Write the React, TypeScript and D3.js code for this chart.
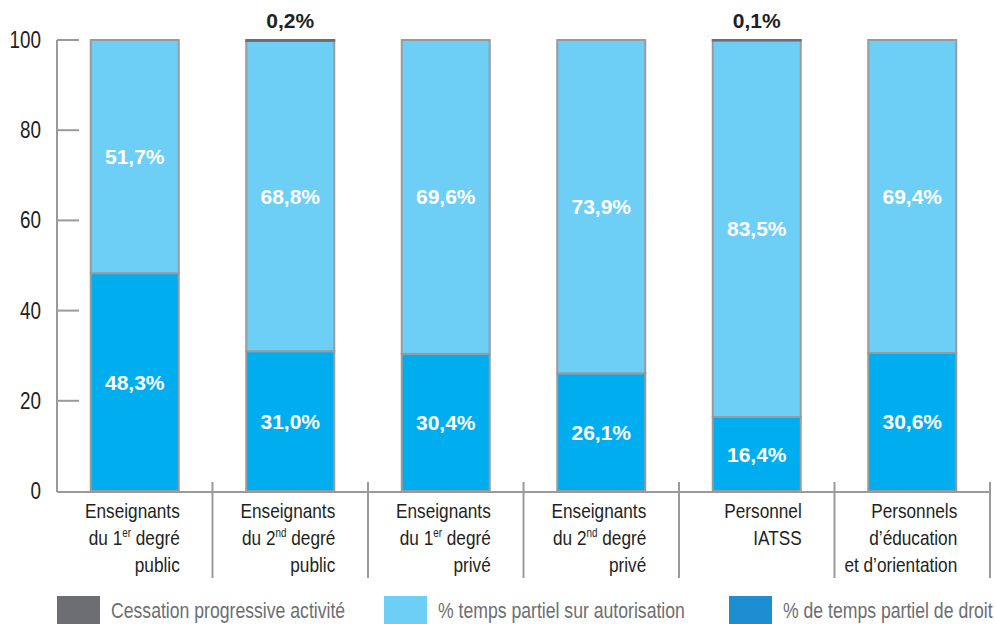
import React from "react";
import * as d3 from "d3";

const categories: string[][] = [
  ["Enseignants", "du 1|er| degré", "public"],
  ["Enseignants", "du 2|nd| degré", "public"],
  ["Enseignants", "du 1|er| degré", "privé"],
  ["Enseignants", "du 2|nd| degré", "privé"],
  ["Personnel", "IATSS"],
  ["Personnels", "d’éducation", "et d’orientation"],
];
const droit = [48.3, 31.0, 30.4, 26.1, 16.4, 30.6];
const autorisation = [51.7, 68.8, 69.6, 73.9, 83.5, 69.4];
const cessation = [0, 0.2, 0, 0, 0.1, 0];
const yTicks = [0, 20, 40, 60, 80, 100];
const legendLabels = [
  "Cessation progressive activité",
  "% temps partiel sur autorisation",
  "% de temps partiel de droit",
];

const W = 996;
const H = 624;
const SANS = "'Liberation Sans', Arial, sans-serif";
const NARROW_SCALE = 0.82;
const C_GREY = "#6D6E71";
const C_LIGHT = "#6DCFF6";
const C_DARK = "#00AEEF";
const C_LEG_DARK = "#1B8FD0";
const C_STROKE = "#999A9C";
const C_TEXT = "#231F20";

const fmt = (v: number) => v.toFixed(1).replace(".", ",") + "%";

function NarrowText({
  x,
  y,
  anchor,
  size,
  fill,
  children,
}: {
  x: number;
  y: number;
  anchor: "start" | "end" | "middle";
  size: number;
  fill: string;
  children: React.ReactNode;
}) {
  return (
    <g transform={`translate(${x},${y}) scale(${NARROW_SCALE},1)`}>
      <text x={0} y={0} textAnchor={anchor} fontFamily={SANS} fontSize={size} fill={fill}>
        {children}
      </text>
    </g>
  );
}

function Label({ line, x, y }: { line: string; x: number; y: number }) {
  const parts = line.split("|");
  return (
    <NarrowText x={x} y={y} anchor="end" size={21} fill={C_TEXT}>
      {parts.map((p, i) =>
        i % 2 === 1 ? (
          <tspan key={i} fontSize={12} dy={-8}>
            {p}
          </tspan>
        ) : (
          <tspan key={i} dy={i > 0 ? 8 : 0}>
            {p}
          </tspan>
        )
      )}
    </NarrowText>
  );
}

export default function App() {
  const left = 57;
  const right = 990;
  const y = d3.scaleLinear().domain([0, 100]).range([491, 40]);
  const x = d3
    .scaleBand<number>()
    .domain(categories.map((_, i) => i))
    .range([left, right])
    .padding(0);
  const bw = x.bandwidth() * 0.566;

  const series = [
    { key: "droit", values: droit, color: C_DARK },
    { key: "autorisation", values: autorisation, color: C_LIGHT },
    { key: "cessation", values: cessation, color: C_GREY },
  ];

  const stacked = categories.map((_, i) => {
    let acc = 0;
    return series.map((s) => {
      const y0 = acc;
      acc += s.values[i];
      return { y0, y1: acc, color: s.color, key: s.key, v: s.values[i] };
    });
  });

  const legendItems = [
    { label: legendLabels[0], color: C_GREY, x: 57 },
    { label: legendLabels[1], color: C_LIGHT, x: 384 },
    { label: legendLabels[2], color: C_LEG_DARK, x: 729 },
  ];

  return (
    <svg width={W} height={H} style={{ position: "absolute", left: 0, top: 0, background: "#fff" }}>
      {/* y axis */}
      <line x1={left} x2={left} y1={y(100)} y2={y(0) + 1} stroke={C_STROKE} strokeWidth={2} />
      {yTicks.map((t) => (
        <g key={t}>
          {t > 0 && (
            <line x1={left} x2={left + 22} y1={y(t)} y2={y(t)} stroke={C_STROKE} strokeWidth={2} />
          )}
          <NarrowText x={41} y={y(t) + 8} anchor="end" size={23} fill={C_TEXT}>
            {t}
          </NarrowText>
        </g>
      ))}
      {/* bars */}
      {stacked.map((segs, i) => {
        const cx = (x(i) as number) + x.bandwidth() / 2;
        const bx = cx - bw / 2;
        return (
          <g key={i}>
            {segs.map((s) =>
              s.v > 0 ? (
                <rect
                  key={s.key}
                  x={bx}
                  y={y(s.y1)}
                  width={bw}
                  height={y(s.y0) - y(s.y1)}
                  fill={s.color}
                  stroke={s.key === "cessation" ? C_GREY : C_STROKE}
                  strokeWidth={2}
                />
              ) : null
            )}
            {segs.map((s) =>
              s.key !== "cessation" ? (
                <text
                  key={"t" + s.key}
                  x={cx}
                  y={(y(s.y0) + y(s.y1)) / 2 + 7.5}
                  textAnchor="middle"
                  fontFamily={SANS}
                  fontWeight="bold"
                  fontSize={21}
                  fill="#fff"
                >
                  {fmt(s.v)}
                </text>
              ) : s.v > 0 ? (
                <text
                  key={"t" + s.key}
                  x={cx}
                  y={28}
                  textAnchor="middle"
                  fontFamily={SANS}
                  fontWeight="bold"
                  fontSize={21}
                  fill={C_TEXT}
                >
                  {fmt(s.v)}
                </text>
              ) : null
            )}
            {categories[i].map((line, j) => (
              <Label key={j} line={line} x={bx + bw + 1} y={518 + j * 27} />
            ))}
          </g>
        );
      })}
      {/* x axis */}
      <line x1={left} x2={right} y1={492} y2={492} stroke={C_STROKE} strokeWidth={2} />
      {categories.map((_, i) => (
        <line
          key={i}
          x1={(x(i) as number) + x.bandwidth()}
          x2={(x(i) as number) + x.bandwidth()}
          y1={482}
          y2={578}
          stroke={C_STROKE}
          strokeWidth={2}
        />
      ))}
      {/* legend */}
      {legendItems.map((l) => (
        <g key={l.label}>
          <rect x={l.x} y={596} width={43} height={28} fill={l.color} />
          <NarrowText x={l.x + 54} y={618} anchor="start" size={21.5} fill={C_GREY}>
            {l.label}
          </NarrowText>
        </g>
      ))}
    </svg>
  );
}
